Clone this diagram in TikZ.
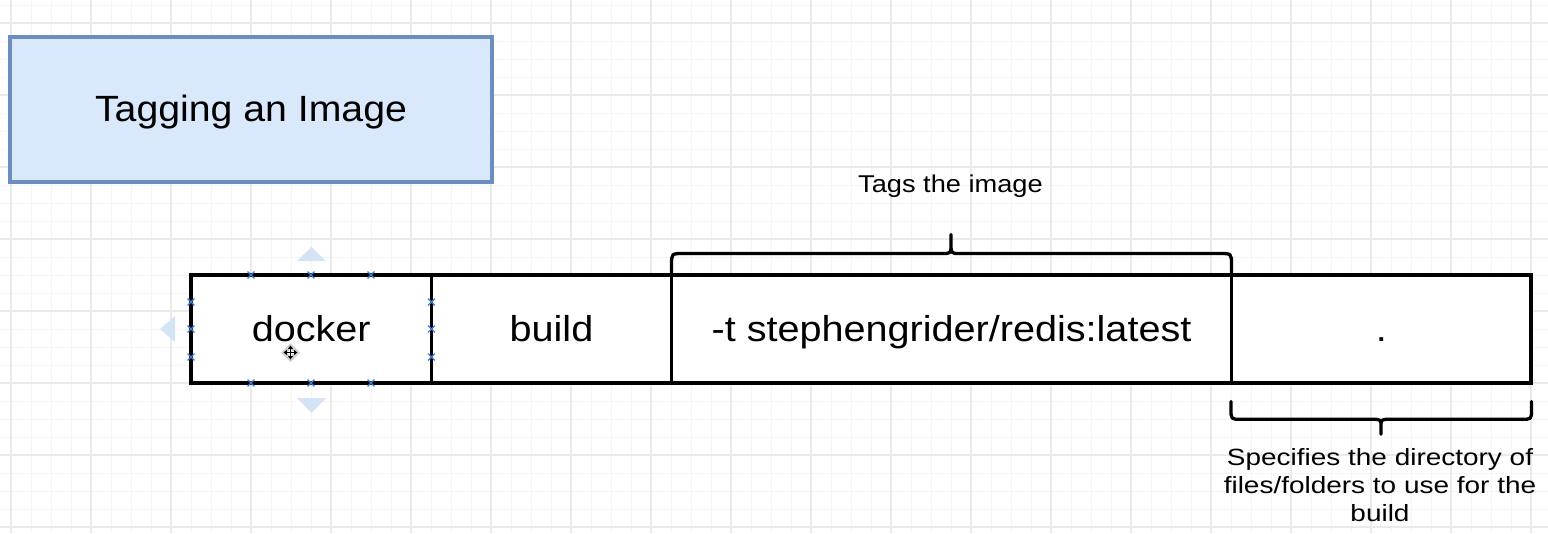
\documentclass[tikz,border=0pt]{standalone}
\usepackage{fontspec}
\setmainfont{Liberation Sans}
\usepackage{graphicx}
\usetikzlibrary{shapes.misc,arrows.meta}
\definecolor{gridminor}{HTML}{F5F5F5}
\definecolor{gridmajor}{HTML}{EAEAEA}
\definecolor{titlefill}{HTML}{DAE8FC}
\definecolor{titledraw}{HTML}{6C8EBF}
\definecolor{handleblue}{HTML}{3D7FD6}
\definecolor{ghostblue}{HTML}{D5E3F6}
\newcommand\sx[2]{\scalebox{#1}[1]{#2}}
\begin{document}
\begin{tikzpicture}[x=1pt,y=-1pt,
  minorgrid/.style={gridminor, line width=1pt},
  majorgrid/.style={gridmajor, line width=1.2pt},
  titlestyle/.style={draw=titledraw, fill=titlefill, line width=3.2pt, minimum width=482pt, minimum height=145pt, inner sep=0pt, font=\fontsize{36.5}{44}\selectfont, text height=24.4pt, text depth=0pt},
  cellbox/.style={draw=black, fill=white, line width=3.8pt, minimum height=108pt, inner sep=0pt, font=\fontsize{36}{43}\selectfont, text height=25.4pt, text depth=0pt},
  bracepath/.style={draw=black, line width=3.3pt, line cap=round, line join=round},
  notetext/.style={inner sep=0pt, font=\fontsize{24.3}{29}\selectfont},
  specnote/.style={inner sep=0pt, align=center, font=\fontsize{23.5}{28}\selectfont},
  hmark/.style={cross out, draw=handleblue, line width=1.3pt, minimum size=5.5pt, inner sep=0pt},
  ghost/.style={fill=ghostblue, draw=none}
]
\useasboundingbox[fill=white] (0,0) rectangle (1548,533);
% grid
\foreach \k in {0,...,76} \draw[minorgrid] ({11+20*\k},0) -- ({11+20*\k},533);
\foreach \k in {0,...,29} \draw[minorgrid] (0,{5+18*\k}) -- (1548,{5+18*\k});
\foreach \k in {0,...,19} \draw[majorgrid] ({11+80*\k},0) -- ({11+80*\k},533);
\foreach \k in {0,...,7} \draw[majorgrid] (0,{23+72*\k}) -- (1548,{23+72*\k});

% title
\node[titlestyle] (title) at (251,109.5) {\sx{1.075}{Tagging an Image}};

% ghost move arrows
\fill[ghost] (297,261) -- (311.5,247) -- (326,261) -- cycle;
\fill[ghost] (297,398) -- (311.5,413) -- (326,398) -- cycle;
\fill[ghost] (175,316) -- (160,329) -- (175,342) -- cycle;

% command cells
\node[cellbox, minimum width=240.5pt] (docker) at (311.25,329) {\sx{1.1}{docker}};
\node[cellbox, minimum width=240pt] (build) at (551.5,329) {\sx{1.1}{build}};
\node[cellbox, minimum width=560pt] (tag) at (951.5,329) {\sx{1.1}{-t stephengrider/redis:latest}};
\node[cellbox, minimum width=299.5pt] (dot) at (1381.25,329) {\sx{1.1}{.}};

% selection handles
\foreach \p [count=\i] in {(251,275),(311,275),(371,275),(251,383),(311,383),(371,383),(191,302),(191,329),(191,357),(431.5,302),(431.5,329),(431.5,357)}
  \node[hmark] (h\i) at \p {};

% move cursor
\begin{scope}[shift={(290.5,352.5)}]
  \fill[black!30, opacity=.6] (0,-9.5) -- (9.5,0) -- (0,9.5) -- (-9.5,0) -- cycle;
  \draw[white, line width=3pt] (-6,0) -- (6,0) (0,-6) -- (0,6);
  \draw[black, line width=1.3pt, {Triangle[width=5pt,length=3.5pt]}-{Triangle[width=5pt,length=3.5pt]}] (-7,0) -- (7,0);
  \draw[black, line width=1.3pt, {Triangle[width=5pt,length=3.5pt]}-{Triangle[width=5pt,length=3.5pt]}] (0,-7) -- (0,7);
\end{scope}

% top brace
\draw[bracepath] (671.5,274) -- (671.5,265) .. controls (671.5,253.5) .. (683.5,253.5) -- (942,253.5) .. controls (951,253.5) .. (951,244) -- (951,234.5)
  (951,244) .. controls (951,253.5) .. (960,253.5) -- (1219.5,253.5) .. controls (1231.5,253.5) .. (1231.5,265) -- (1231.5,274);
\node[notetext, anchor=base] (tagsnote) at (950.5,192.3) {\sx{1.12}{Tags the image}};

% bottom brace
\draw[bracepath] (1231,401.5) -- (1231,409.5) .. controls (1231,419.3) .. (1241,419.3) -- (1372,419.3) .. controls (1381,419.3) .. (1381,427) -- (1381,434.3)
  (1381,427) .. controls (1381,419.3) .. (1390,419.3) -- (1521.5,419.3) .. controls (1531.5,419.3) .. (1531.5,409.5) -- (1531.5,401.5);
\node[specnote, anchor=north] (specnote) at (1380,447.8) {\sx{1.19}{Specifies the directory of}\\\sx{1.19}{files/folders to use for the}\\\sx{1.19}{build}};
\end{tikzpicture}
\end{document}
